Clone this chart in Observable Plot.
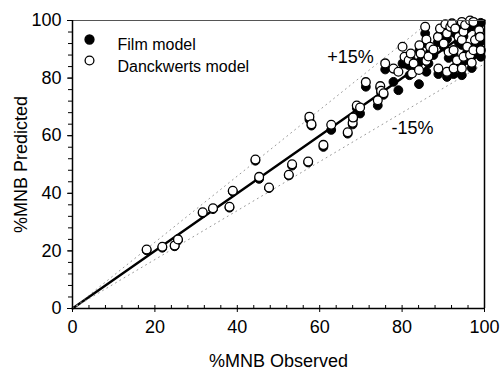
<!DOCTYPE html>
<html>
<head>
<meta charset="utf-8">
<script src="https://cdn.jsdelivr.net/npm/d3@7"></script>
<script src="https://cdn.jsdelivr.net/npm/@observablehq/plot@0.6"></script>
<style>
  html, body { margin: 0; padding: 0; background: #fff; }
  #chart { width: 502px; height: 372px; }
</style>
</head>
<body>
<div id="chart"></div>
<script>
// Film model (filled)
const filmObs  = [18.0,21.8,24.8,25.6,31.6,34.1,38.1,38.9,44.4,45.3,47.7,52.5,53.3,57.2,57.5,58.0,60.9,62.8,66.8,68.0,68.1,69.0,69.8,71.2,74.1,74.7,74.9,75.5,75.9,77.9,79.1,80.1,80.6,81.6,81.8,82.1,82.8,84.1,84.2,84.5,85.6,85.9,85.9,86.4,86.8,87.6,88.7,88.8,89.2,90.1,90.5,90.9,90.9,91.3,91.7,92.1,92.5,92.5,92.9,93.3,93.7,94.5,94.5,94.5,94.9,94.9,95.3,95.8,96.5,96.5,96.9,97.3,97.3,97.7,98.7,98.9,99.1,99.1];
const filmPred = [20.2,21.1,21.6,23.7,33.1,34.5,35.0,40.6,51.3,45.0,41.8,46.2,49.6,50.7,65.6,63.5,56.1,62.0,60.7,63.9,65.8,69.6,67.7,77.0,70.5,76.6,75.0,74.2,83.0,78.7,75.8,85.1,85.0,84.5,81.0,86.5,83.5,77.9,89.5,86.0,95.5,92.0,82.2,85.1,89.0,88.0,92.5,81.4,95.0,90.9,97.0,80.4,93.5,87.0,96.0,97.5,81.4,88.0,95.5,84.5,92.5,97.8,81.0,91.5,94.5,85.8,97.0,89.0,98.5,86.5,83.5,98.0,88.0,91.5,95.0,92.5,87.4,99.2];
// Danckwerts model (open)
const danckObs  = [18.0,21.8,24.8,25.6,31.6,34.1,38.1,38.9,44.4,45.3,47.7,52.5,53.3,57.2,57.5,58.0,60.9,62.8,66.8,68.0,68.1,69.0,69.8,71.2,74.1,74.7,74.9,75.5,75.9,77.9,79.1,80.1,80.6,81.6,82.4,82.1,82.8,84.1,84.2,84.5,85.6,85.9,85.9,86.4,86.8,87.6,88.7,88.8,89.2,90.1,90.5,90.9,90.9,91.3,91.7,92.1,92.5,92.5,92.9,93.3,93.7,94.5,94.5,94.5,94.9,94.9,95.3,95.8,96.5,96.5,96.9,97.3,97.3,97.7,98.7,98.9,99.1];
const danckPred = [20.5,21.4,21.9,24.0,33.4,34.8,35.3,40.9,51.7,45.7,42.0,46.4,50.1,51.0,66.6,64.0,56.8,63.8,61.2,64.5,66.3,70.5,69.8,78.6,72.3,77.2,75.6,74.7,85.1,83.3,82.2,90.9,87.4,86.2,81.6,88.5,85.1,82.8,91.4,88.5,97.8,93.4,86.0,87.5,90.9,89.9,94.3,83.3,97.2,92.0,98.7,82.2,95.5,89.1,97.8,99.0,83.3,89.7,97.2,86.2,94.3,99.5,83.3,93.2,96.1,87.4,98.4,90.9,100.0,88.0,85.3,99.5,89.7,93.2,96.6,94.3,89.7];

// 1:1 line and ±15% bounds
const unityX = [0, 100], unityY = [0, 100];
const upperX = [0, 87], upperY = [0, 100];
const lowerX = [0, 100], lowerY = [0, 85];

const majorTicks = [0, 20, 40, 60, 80, 100];
const minorTicks = d3.range(0, 101, 4);

const legendLabels = ["Film model", "Danckwerts model"];
const bandLabels = ["+15%", "-15%"];
const bandLabelX = [67.5, 82.5];
const bandLabelY = [87.2, 62.5];

const font = "Liberation Sans, Arial, Helvetica, sans-serif";
const film = filmObs.map((x, i) => ({x, y: filmPred[i]}));
const danck = danckObs.map((x, i) => ({x, y: danckPred[i]}));
const bands = bandLabels.map((t, i) => ({t, x: bandLabelX[i], y: bandLabelY[i]}));

const chart = Plot.plot({
  width: 502,
  height: 372,
  marginLeft: 72,
  marginRight: 18,
  marginTop: 20,
  marginBottom: 64,
  style: {fontFamily: font, fontSize: "18px", background: "#fff", color: "#000"},
  x: {domain: [0, 100]},
  y: {domain: [0, 100]},
  marks: [
    Plot.line(unityX.map((x, i) => [x, unityY[i]]), {x: d => d[0], y: d => d[1], stroke: "#000", strokeWidth: 2.4}),
    Plot.line(upperX.map((x, i) => [x, upperY[i]]), {x: d => d[0], y: d => d[1], stroke: "#999", strokeWidth: 1, strokeDasharray: "1,4"}),
    Plot.line(lowerX.map((x, i) => [x, lowerY[i]]), {x: d => d[0], y: d => d[1], stroke: "#999", strokeWidth: 1, strokeDasharray: "1,4"}),
    Plot.dot(film, {x: "x", y: "y", r: 4.4, fill: "#000", stroke: "#000", strokeWidth: 1}),
    Plot.dot(danck, {x: "x", y: "y", r: 4.4, fill: "#fff", stroke: "#000", strokeWidth: 1.3}),
    Plot.text(bands, {x: "x", y: "y", text: "t", fontSize: 18, fill: "#000"}),
    // legend
    Plot.dot([legendLabels[0]], {frameAnchor: "top-left", dx: 17, dy: 19, r: 4.4, fill: "#000", stroke: "#000"}),
    Plot.dot([legendLabels[1]], {frameAnchor: "top-left", dx: 17, dy: 40, r: 4.4, fill: "#fff", stroke: "#000", strokeWidth: 1.3}),
    Plot.text([legendLabels[0]], {frameAnchor: "top-left", dx: 45, dy: 18, text: d => d, textAnchor: "start", fontSize: 16, fill: "#000"}),
    Plot.text([legendLabels[1]], {frameAnchor: "top-left", dx: 45, dy: 40, text: d => d, textAnchor: "start", fontSize: 16, fill: "#000"}),
    // frame
    Plot.ruleY([100], {stroke: "#555", strokeWidth: 1.2}),
    Plot.ruleX([100], {stroke: "#000", strokeWidth: 1.5}),
    Plot.ruleY([0], {stroke: "#000", strokeWidth: 1.5}),
    Plot.ruleX([0], {stroke: "#000", strokeWidth: 1.5}),
    // axes
    Plot.axisX(minorTicks, {tickSize: 3, dy: -3, tickFormat: () => "", label: null, stroke: "#000"}),
    Plot.axisX(majorTicks, {tickSize: 4, tickPadding: 8, tickFormat: d => d, fontSize: 18, label: "%MNB Observed", labelAnchor: "center", labelArrow: "none", labelOffset: 58, fill: "#000", stroke: "#000"}),
    Plot.axisY(minorTicks, {tickSize: 4, tickFormat: () => "", label: null, stroke: "#000"}),
    Plot.axisY(majorTicks, {tickSize: 5, tickPadding: 6, tickFormat: d => d, fontSize: 18, label: "%MNB Predicted", labelAnchor: "center", labelArrow: "none", labelOffset: 58, fill: "#000", stroke: "#000"})
  ]
});
document.getElementById("chart").appendChild(chart);
</script>
</body>
</html>
